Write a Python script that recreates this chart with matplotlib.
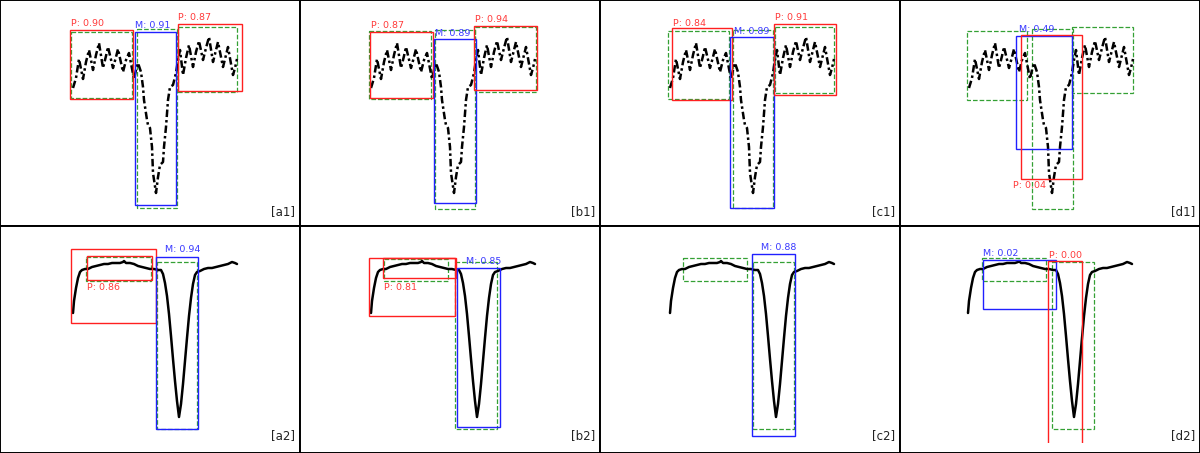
import matplotlib
matplotlib.use("Agg")
import matplotlib.pyplot as plt
from matplotlib.patches import Rectangle

# ---------------- data (panel pixel coordinates, y downward) ----------------
row1_x = [73, 76, 79, 83, 86, 89, 93, 96, 99, 103, 106, 108, 113, 116, 118, 123, 126, 129,
          134, 136, 138, 141, 143, 144, 147, 148, 150, 152, 153, 156, 158, 160, 163, 164,
          166, 168, 170, 173, 176, 178, 180, 183, 186, 189, 193, 196, 199, 203, 206, 209,
          213, 216, 218, 223, 226, 228, 233, 235, 237]
row1_y = [88, 78, 59, 79, 62, 50, 70, 55, 43, 68, 56, 47, 68, 57, 49, 72, 60, 53,
          79, 70, 63, 72, 87, 100, 120, 125, 128, 147, 173, 193, 177, 165, 162, 147,
          127, 100, 87, 85, 73, 60, 50, 75, 58, 45, 67, 52, 41, 60, 48, 37,
          62, 50, 42, 67, 55, 47, 75, 68, 59]

row2_x = [73, 74, 76, 78, 80, 82, 85, 88, 92, 96, 100, 104, 108, 112, 116, 120, 123, 124,
          126, 130, 134, 138, 142, 146, 150, 154, 158, 161, 163, 165, 167, 169, 171, 173,
          175, 177, 179, 181, 183, 185, 187, 189, 191, 193, 195, 197, 200, 204, 208, 212,
          216, 220, 224, 228, 232, 235, 237]
row2_y = [87, 75, 62, 52, 46, 44, 43, 43, 41, 40, 39, 38, 38, 37, 37, 37, 36, 35,
          37, 37, 38, 40, 41, 42, 43, 43, 44, 44, 48, 57, 70, 88, 110, 133,
          155, 175, 191, 178, 158, 135, 112, 90, 72, 58, 49, 46, 45, 43, 42, 42,
          41, 40, 39, 38, 36, 37, 38]

panel_names = ["[a1]", "[b1]", "[c1]", "[d1]", "[a2]", "[b2]", "[c2]", "[d2]"]
curve_shift = [0, -2, -3, -4, 0, -2, -3, -5]

# boxes: (kind, x0, y0, x1, y1, label, label_x, label_y)
boxes = [
    [("gt", 71, 32, 132, 98, None, 0, 0),
     ("P", 70, 30, 133, 99, "P: 0.90", 71, 24),
     ("gt", 137, 29, 177, 208, None, 0, 0),
     ("M", 135, 32, 176, 205, "M: 0.91", 135, 26),
     ("gt", 178, 27, 237, 92, None, 0, 0),
     ("P", 178, 24, 242, 91, "P: 0.87", 178, 17)],
    [("gt", 69, 31, 131, 99, None, 0, 0),
     ("P", 70, 32, 133, 98, "P: 0.87", 71, 26),
     ("gt", 135, 30, 175, 209, None, 0, 0),
     ("M", 134, 39, 176, 203, "M: 0.89", 135, 33),
     ("gt", 175, 27, 236, 92, None, 0, 0),
     ("P", 174, 26, 237, 90, "P: 0.94", 175, 20)],
    [("gt", 68, 31, 129, 99, None, 0, 0),
     ("P", 72, 28, 132, 100, "P: 0.84", 73, 23),
     ("gt", 133, 30, 173, 208, None, 0, 0),
     ("M", 130, 37, 174, 208, "M: 0.89", 134, 31),
     ("gt", 175, 27, 234, 93, None, 0, 0),
     ("P", 174, 24, 236, 95, "P: 0.91", 175, 18)],
    [("gt", 67, 31, 127, 100, None, 0, 0),
     ("gt", 132, 29, 173, 209, None, 0, 0),
     ("gt", 172, 27, 233, 93, None, 0, 0),
     ("M", 116, 36, 172, 149, "M: 0.49", 119, 30),
     ("P", 121, 35, 182, 179, "P: 0.04", 113, 185)],
    [("P", 71, 23, 156, 97, None, 0, 0),
     ("gt", 86, 31, 151, 55, None, 0, 0),
     ("P", 87, 30, 152, 54, "P: 0.86", 87, 62),
     ("gt", 157, 36, 197, 203, None, 0, 0),
     ("M", 156, 31, 198, 203, "M: 0.94", 165, 24)],
    [("P", 69, 32, 155, 90, None, 0, 0),
     ("gt", 84, 33, 148, 55, None, 0, 0),
     ("P", 83, 32, 156, 52, "P: 0.81", 84, 61),
     ("gt", 155, 36, 197, 203, None, 0, 0),
     ("M", 157, 42, 200, 201, "M: 0.85", 166, 36)],
    [("gt", 83, 32, 147, 55, None, 0, 0),
     ("gt", 153, 36, 194, 203, None, 0, 0),
     ("M", 152, 28, 195, 210, "M: 0.88", 161, 22)],
    [("gt", 82, 32, 146, 55, None, 0, 0),
     ("gt", 152, 36, 194, 203, None, 0, 0),
     ("M", 83, 34, 156, 83, "M: 0.02", 83, 28),
     ("P", 148, 35, 182, 260, "P: 0.00", 149, 29)],
]

# ---------------- styles ----------------
edge_col = {"gt": "#34a034", "P": "#ff2020", "M": "#2020ff"}
text_col = {"P": "#ff3a3a", "M": "#3a3aff"}

fig = plt.figure(figsize=(12, 4.53), dpi=100)
W, H = 1200.0, 453.0
row_top = [(0, 226), (226, 227)]  # (top pixel, height)

for i in range(8):
    r, c = divmod(i, 4)
    top, h = row_top[r]
    ax = fig.add_axes([c * 300 / W, (H - top - h) / H, 300 / W, h / H])
    ax.set_xlim(0, 300)
    ax.set_ylim(h, 0)
    ax.set_xticks([])
    ax.set_yticks([])
    for s in ax.spines.values():
        s.set_linewidth(1.4)
        s.set_color("black")

    clip = Rectangle((0, 0), 300, 217, transform=ax.transData, visible=False)
    ax.add_patch(clip)

    xs = row1_x if r == 0 else row2_x
    ys = row1_y if r == 0 else row2_y
    xs = [x + curve_shift[i] for x in xs]
    if r == 0:
        ax.plot(xs, ys, color="black", lw=1.8, linestyle=(0, (3, 1.2, 1, 1.2)), zorder=3)
    else:
        ax.plot(xs, ys, color="black", lw=1.8, solid_capstyle="round", zorder=3)

    for kind, x0, y0, x1, y1, lab, lx, ly in boxes[i]:
        rect = Rectangle((x0, y0), x1 - x0, y1 - y0, fill=False,
                         edgecolor=edge_col[kind], lw=1.0 if kind != "gt" else 0.9,
                         linestyle="--" if kind == "gt" else "-",
                         zorder=4 if kind != "gt" else 2)
        ax.add_patch(rect)
        rect.set_clip_path(clip)
        if lab:
            ax.text(lx, ly, lab, color=text_col[kind], fontsize=6.8,
                    ha="left", va="center", zorder=5)

    ax.text(295, 212 if r == 0 else 210, panel_names[i], fontsize=8.5,
            color="#222222", ha="right", va="center")

fig.savefig("out.png", dpi=100)
